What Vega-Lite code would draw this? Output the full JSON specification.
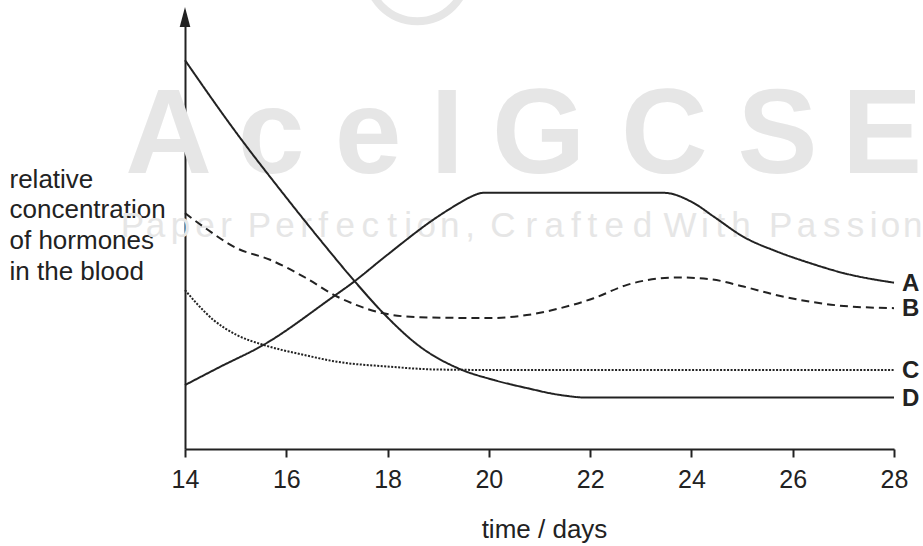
{
  "$schema": "https://vega.github.io/schema/vega-lite/v6.json",
  "width": 709,
  "height": 432,
  "autosize": {"type": "none"},
  "padding": {"left": 185, "top": 17, "right": 29, "bottom": 97},
  "background": "white",
  "config": {"view": {"stroke": null}, "font": "Liberation Sans"},
  "datasets": {
    "curves": [
      {"series": "A", "day": 14.0, "value": 1.48},
      {"series": "A", "day": 14.69, "value": 1.9},
      {"series": "A", "day": 15.55, "value": 2.41},
      {"series": "A", "day": 16.92, "value": 3.52},
      {"series": "A", "day": 17.3, "value": 3.84},
      {"series": "A", "day": 17.99, "value": 4.49},
      {"series": "A", "day": 18.98, "value": 5.37},
      {"series": "A", "day": 19.43, "value": 5.7},
      {"series": "A", "day": 19.63, "value": 5.83},
      {"series": "A", "day": 19.89, "value": 5.93},
      {"series": "A", "day": 23.45, "value": 5.93},
      {"series": "A", "day": 24.05, "value": 5.69},
      {"series": "A", "day": 24.44, "value": 5.38},
      {"series": "A", "day": 25.03, "value": 4.91},
      {"series": "A", "day": 25.69, "value": 4.57},
      {"series": "A", "day": 26.35, "value": 4.3},
      {"series": "A", "day": 27.01, "value": 4.07},
      {"series": "A", "day": 28.0, "value": 3.85},
      {"series": "B", "day": 14.0, "value": 5.46},
      {"series": "B", "day": 14.36, "value": 5.15},
      {"series": "B", "day": 15.02, "value": 4.65},
      {"series": "B", "day": 15.68, "value": 4.38},
      {"series": "B", "day": 16.34, "value": 3.99},
      {"series": "B", "day": 17.0, "value": 3.53},
      {"series": "B", "day": 17.39, "value": 3.33},
      {"series": "B", "day": 17.92, "value": 3.14},
      {"series": "B", "day": 18.64, "value": 3.05},
      {"series": "B", "day": 20.03, "value": 3.03},
      {"series": "B", "day": 20.75, "value": 3.1},
      {"series": "B", "day": 21.41, "value": 3.26},
      {"series": "B", "day": 22.07, "value": 3.49},
      {"series": "B", "day": 22.73, "value": 3.8},
      {"series": "B", "day": 23.39, "value": 3.95},
      {"series": "B", "day": 23.78, "value": 3.97},
      {"series": "B", "day": 24.38, "value": 3.93},
      {"series": "B", "day": 25.03, "value": 3.76},
      {"series": "B", "day": 25.69, "value": 3.56},
      {"series": "B", "day": 26.35, "value": 3.41},
      {"series": "B", "day": 27.01, "value": 3.31},
      {"series": "B", "day": 28.0, "value": 3.26},
      {"series": "C", "day": 14.0, "value": 3.68},
      {"series": "C", "day": 14.23, "value": 3.37},
      {"series": "C", "day": 14.56, "value": 2.99},
      {"series": "C", "day": 15.02, "value": 2.64},
      {"series": "C", "day": 15.55, "value": 2.41},
      {"series": "C", "day": 16.34, "value": 2.18},
      {"series": "C", "day": 17.0, "value": 2.02},
      {"series": "C", "day": 17.99, "value": 1.91},
      {"series": "C", "day": 18.98, "value": 1.84},
      {"series": "C", "day": 20.03, "value": 1.83},
      {"series": "C", "day": 28.0, "value": 1.83},
      {"series": "D", "day": 14.0, "value": 9.0},
      {"series": "D", "day": 15.02, "value": 7.31},
      {"series": "D", "day": 15.88, "value": 6.0},
      {"series": "D", "day": 16.67, "value": 4.84},
      {"series": "D", "day": 17.33, "value": 3.91},
      {"series": "D", "day": 17.92, "value": 3.14},
      {"series": "D", "day": 18.64, "value": 2.37},
      {"series": "D", "day": 19.43, "value": 1.85},
      {"series": "D", "day": 20.09, "value": 1.6},
      {"series": "D", "day": 20.75, "value": 1.41},
      {"series": "D", "day": 21.41, "value": 1.25},
      {"series": "D", "day": 21.94, "value": 1.19},
      {"series": "D", "day": 28.0, "value": 1.19}
    ],
    "watermark": [
      {"text": "A", "day": 13.674, "value": 6.39},
      {"text": "c", "day": 15.7, "value": 6.39},
      {"text": "e", "day": 17.617, "value": 6.39},
      {"text": "I", "day": 19.178, "value": 6.39},
      {"text": "G", "day": 20.986, "value": 6.39},
      {"text": "C", "day": 23.466, "value": 6.39},
      {"text": "S", "day": 25.7, "value": 6.39},
      {"text": "E", "day": 27.765, "value": 6.39}
    ],
    "tagline": [
      {"text": "P", "day": 12.962, "value": 4.907},
      {"text": "a", "day": 13.417, "value": 4.907},
      {"text": "p", "day": 13.911, "value": 4.907},
      {"text": "e", "day": 14.395, "value": 4.907},
      {"text": "r", "day": 14.81, "value": 4.907},
      {"text": "P", "day": 15.472, "value": 4.907},
      {"text": "e", "day": 15.976, "value": 4.907},
      {"text": "r", "day": 16.391, "value": 4.907},
      {"text": "f", "day": 16.727, "value": 4.907},
      {"text": "e", "day": 17.162, "value": 4.907},
      {"text": "c", "day": 17.656, "value": 4.907},
      {"text": "t", "day": 18.091, "value": 4.907},
      {"text": "i", "day": 18.407, "value": 4.907},
      {"text": "o", "day": 18.763, "value": 4.907},
      {"text": "n", "day": 19.227, "value": 4.907},
      {"text": ",", "day": 19.632, "value": 4.907},
      {"text": "C", "day": 20.275, "value": 4.907},
      {"text": "r", "day": 20.838, "value": 4.907},
      {"text": "a", "day": 21.292, "value": 4.907},
      {"text": "f", "day": 21.717, "value": 4.907},
      {"text": "t", "day": 22.043, "value": 4.907},
      {"text": "e", "day": 22.478, "value": 4.907},
      {"text": "d", "day": 23.032, "value": 4.907},
      {"text": "W", "day": 23.773, "value": 4.907},
      {"text": "i", "day": 24.267, "value": 4.907},
      {"text": "t", "day": 24.573, "value": 4.907},
      {"text": "h", "day": 24.978, "value": 4.907},
      {"text": "P", "day": 25.76, "value": 4.907},
      {"text": "a", "day": 26.27, "value": 4.907},
      {"text": "s", "day": 26.77, "value": 4.907},
      {"text": "s", "day": 27.24, "value": 4.907},
      {"text": "i", "day": 27.6, "value": 4.907},
      {"text": "o", "day": 27.93, "value": 4.907},
      {"text": "n", "day": 28.37, "value": 4.907}
    ],
    "logo": [{"day": 18.585, "value": 11.06}],
    "arrow": [{"day": 14, "value": 10}]
  },
  "encoding": {
    "x": {
      "field": "day",
      "type": "quantitative",
      "scale": {"domain": [14, 28], "nice": false, "zero": false},
      "axis": {
        "values": [14, 16, 18, 20, 22, 24, 26, 28],
        "grid": false,
        "domainColor": "#222222",
        "domainWidth": 2,
        "tickColor": "#222222",
        "tickWidth": 2,
        "tickSize": 8,
        "labelFontSize": 25,
        "labelColor": "#222222",
        "labelPadding": 10,
        "labelFlush": false,
        "title": "time / days",
        "titleFontSize": 26,
        "titleFontWeight": "normal",
        "titleColor": "#222222",
        "titleBaseline": "alphabetic",
        "titleX": 359,
        "titleY": 88
      }
    },
    "y": {
      "field": "value",
      "type": "quantitative",
      "scale": {"domain": [0, 10], "nice": false, "zero": false},
      "axis": {
        "grid": false,
        "ticks": false,
        "labels": false,
        "domainColor": "#222222",
        "domainWidth": 2,
        "title": ["relative", "concentration", "of hormones", "in the blood"],
        "titleAngle": 0,
        "titleAlign": "left",
        "titleBaseline": "alphabetic",
        "titleFontSize": 26,
        "titleFontWeight": "normal",
        "titleColor": "#222222",
        "titleLineHeight": 30.8,
        "titleX": -176,
        "titleY": 170
      }
    }
  },
  "layer": [
    {
      "data": {"name": "watermark"},
      "mark": {"type": "text", "font": "Liberation Sans", "fontWeight": "bold", "fontSize": 120, "align": "center", "baseline": "alphabetic", "color": "#e6e6e6"},
      "encoding": {"text": {"field": "text"}}
    },
    {
      "data": {"name": "tagline"},
      "mark": {"type": "text", "font": "Liberation Sans", "fontSize": 35, "align": "center", "baseline": "alphabetic", "color": "#e6e6e6"},
      "encoding": {"text": {"field": "text"}}
    },
    {
      "data": {"name": "logo"},
      "mark": {"type": "point", "shape": "circle", "size": 10000, "filled": false, "stroke": "#e6e6e6", "strokeWidth": 8, "opacity": 1}
    },
    {
      "data": {"name": "curves"},
      "mark": {"type": "line", "interpolate": "monotone", "color": "#222222", "strokeWidth": 2},
      "encoding": {
        "detail": {"field": "series"},
        "strokeDash": {
          "field": "series",
          "type": "nominal",
          "scale": {"domain": ["A", "B", "C", "D"], "range": [[1, 0], [8, 5], [2, 1.5], [1, 0]]},
          "legend": null
        }
      }
    },
    {
      "data": {"name": "curves"},
      "transform": [{"filter": "datum.day == 28"}],
      "mark": {"type": "text", "align": "left", "baseline": "middle", "dx": 8, "dy": 1, "fontSize": 24, "fontWeight": "bold", "color": "#222222"},
      "encoding": {"text": {"field": "series"}}
    },
    {
      "data": {"name": "arrow"},
      "mark": {"type": "point", "shape": "M0,-1L-0.53,1L0.53,1Z", "size": 400, "filled": true, "color": "#222222", "opacity": 1}
    }
  ]
}
